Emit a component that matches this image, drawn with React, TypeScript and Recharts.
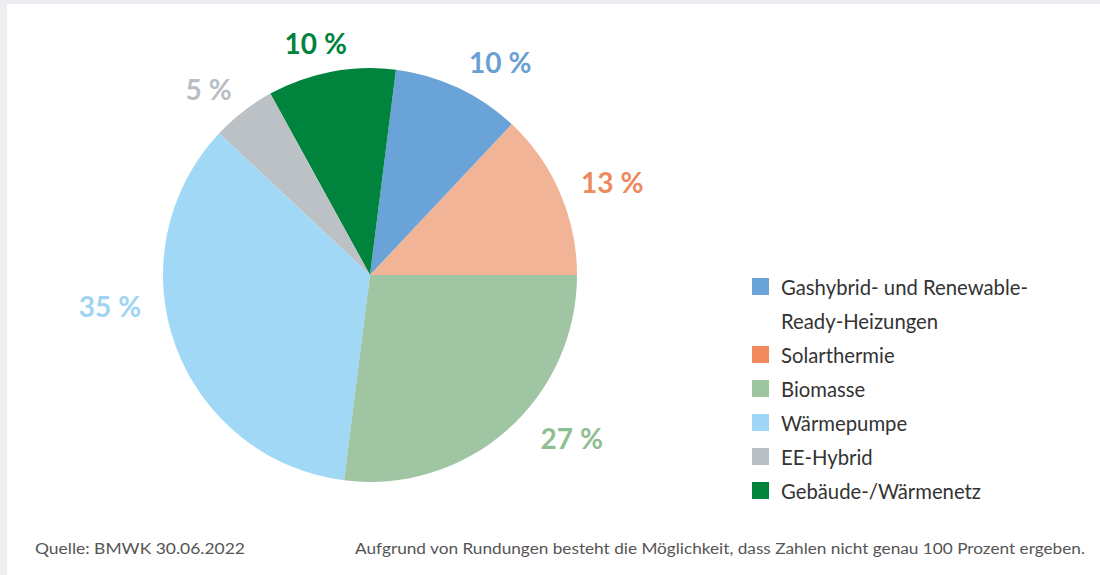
import { PieChart, Pie, Cell, Legend } from "recharts"

const categories = ["Solarthermie", "Gashybrid- und Renewable-Ready-Heizungen", "Gebäude-/Wärmenetz", "EE-Hybrid", "Wärmepumpe", "Biomasse"]
const shares = [13, 10, 10, 5, 35, 27]
const sliceColors = ["#f2b496", "#6aa3d8", "#00843d", "#bcc1c6", "#a1d8f6", "#9fc5a3"]
const labelColors = ["#ec8a5e", "#6a9fd6", "#00843d", "#b9bec4", "#9fd5f3", "#8dbf93"]

const legendOrder = ["Gashybrid- und Renewable-Ready-Heizungen", "Solarthermie", "Biomasse", "Wärmepumpe", "EE-Hybrid", "Gebäude-/Wärmenetz"]
const legendColors = ["#6aa3d8", "#f08a5e", "#9cc5a0", "#a0d6f5", "#b9bfc5", "#00843d"]

const sourceNote = "Quelle: BMWK 30.06.2022"
const roundingNote = "Aufgrund von Rundungen besteht die Möglichkeit, dass Zahlen nicht genau 100 Prozent ergeben."

const data = categories.map((name, i) => ({ name, value: shares[i] }))

// small nudges so the labels sit where the original put them
const labelNudge = [
  [11, 7],
  [23, 15],
  [-7, 16],
  [-7, 13],
  [-23, -54],
  [35, -26],
]

const RADIAN = Math.PI / 180

function renderLabel(props: any) {
  const { cx, cy, midAngle, outerRadius, index, value } = props
  const r = outerRadius + 45
  const x = cx + r * Math.cos(-midAngle * RADIAN) + labelNudge[index][0]
  const y = cy + r * Math.sin(-midAngle * RADIAN) + labelNudge[index][1]
  return (
    <text
      x={x}
      y={y}
      fill={labelColors[index]}
      textAnchor="middle"
      dominantBaseline="central"
      fontFamily="Lato"
      fontWeight={700}
      fontSize={28}
    >
      {value + "\u202F%"}
    </text>
  )
}

function renderLegend() {
  return (
    <div style={{ fontFamily: "Lato", fontSize: 20.3, color: "#333", lineHeight: "34px" }}>
      {legendOrder.map((name, i) => (
        <div key={name} style={{ display: "flex", alignItems: "flex-start" }}>
          <span
            style={{
              display: "inline-block",
              width: 17,
              height: 17,
              marginTop: 8,
              marginRight: 12,
              background: legendColors[i],
              flexShrink: 0,
            }}
          />
          <span style={{ width: 290 }}>{name}</span>
        </div>
      ))}
    </div>
  )
}

export default function App() {
  return (
    <div style={{ position: "absolute", left: 0, top: 0, width: 1100, height: 575, background: "#eceef2" }}>
      <div style={{ position: "absolute", left: 7, top: 4, width: 1093, height: 571, background: "#fff" }} />
      <div style={{ position: "absolute", left: 0, top: 0 }}>
        <PieChart width={1100} height={575} margin={{ top: 0, right: 0, bottom: 0, left: 0 }}>
          <Pie
            data={data}
            dataKey="value"
            nameKey="name"
            cx={370}
            cy={275}
            outerRadius={207}
            startAngle={0}
            endAngle={360}
            stroke="none"
            label={renderLabel}
            labelLine={false}
            isAnimationActive={false}
          >
            {data.map((d, i) => (
              <Cell key={d.name} fill={sliceColors[i]} />
            ))}
          </Pie>
          <Legend
            content={renderLegend}
            wrapperStyle={{ left: 752, top: 270, width: 345, bottom: "auto", right: "auto" }}
          />
        </PieChart>
      </div>
      <svg width={1100} height={575} style={{ position: "absolute", left: 0, top: 0, pointerEvents: "none" }}>
        <text x={35} y={554} fontFamily="Lato" fontSize={15.5} fill="#555" textLength={210} lengthAdjust="spacingAndGlyphs">
          {sourceNote}
        </text>
        <text x={355} y={554} fontFamily="Lato" fontSize={15.5} fill="#555" textLength={730} lengthAdjust="spacingAndGlyphs">
          {roundingNote}
        </text>
      </svg>
    </div>
  )
}
